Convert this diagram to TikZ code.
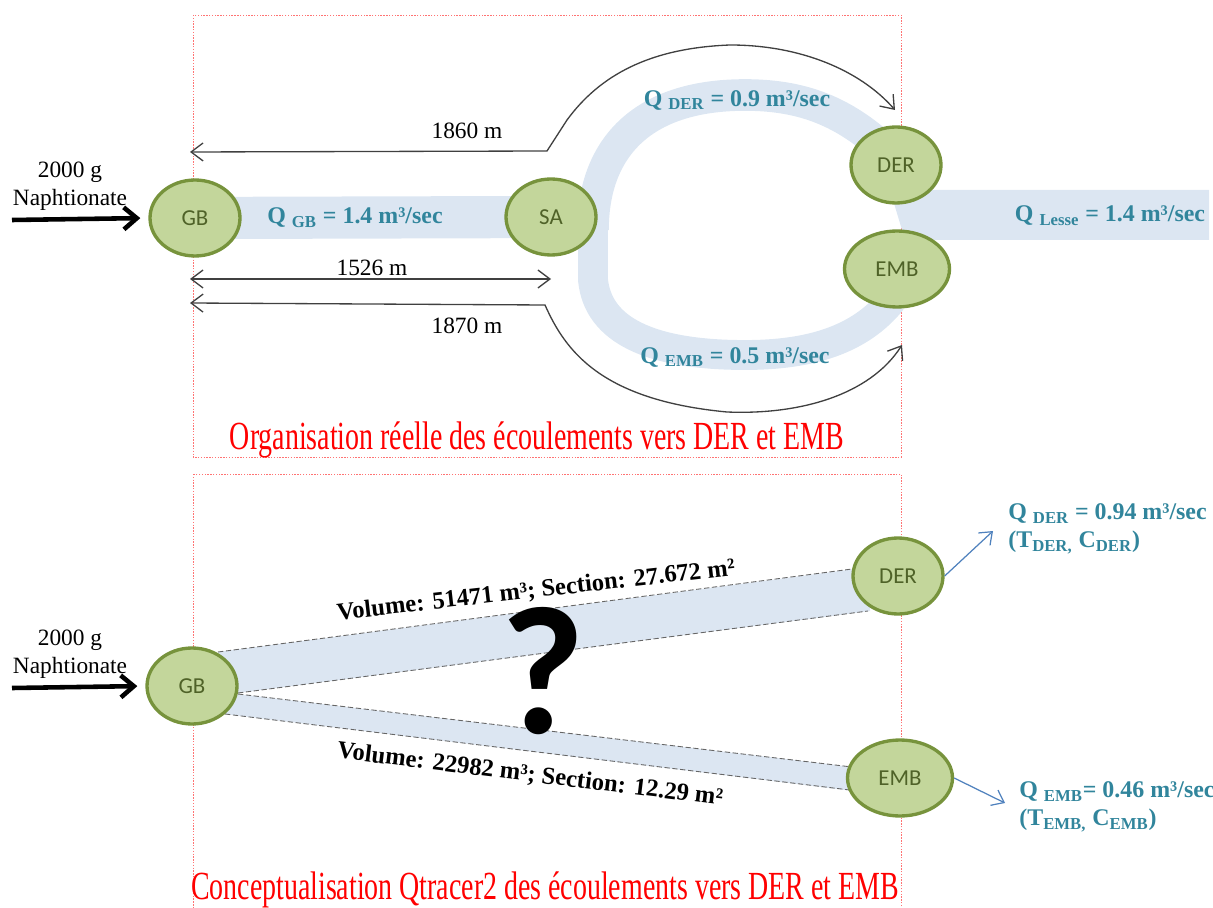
\documentclass[tikz,border=0pt]{standalone}
\usepackage{fontspec}
\setmainfont{Liberation Serif}
\newfontfamily\sitefont{Carlito}
\newfontfamily\zonefont[FakeStretch=0.7]{Liberation Serif}
\usepackage{xcolor}
\usetikzlibrary{arrows.meta, positioning, shapes.geometric, backgrounds}

\definecolor{sitefill}{HTML}{C3D69B}
\definecolor{siteedge}{HTML}{77933C}
\definecolor{sitetext}{HTML}{4F6228}
\definecolor{bandblue}{HTML}{DCE6F2}
\definecolor{flowteal}{HTML}{31859C}
\definecolor{dimgray}{HTML}{404040}
\definecolor{linkblue}{HTML}{4F81BD}

\begin{document}
\begin{tikzpicture}[x=0.02cm, y=-0.02cm,
  site/.style={ellipse, draw=siteedge, line width=1.9pt, fill=sitefill, minimum width=1.8cm, minimum height=1.52cm, inner sep=0pt, font=\sitefont\fontsize{13}{13}\selectfont, text=sitetext},
  wide/.style={minimum width=2.1cm},
  band/.style={fill=bandblue},
  bandedge/.style={draw=black!60, dash pattern=on 3pt off 1.5pt, line width=0.5pt},
  flow/.style={font=\bfseries\fontsize{13.6}{15.9}\selectfont, text=flowteal, inner sep=0pt},
  dist/.style={font=\fontsize{13.3}{15.9}\selectfont, inner sep=0pt},
  vol/.style={font=\bfseries\fontsize{14}{16}\selectfont, inner sep=0pt},
  zone/.style={font=\zonefont\fontsize{22.7}{24}\selectfont, text=red, inner sep=0pt},
  zoneframe/.style={draw=red!55, dash pattern=on 0.8pt off 0.8pt, line width=0.5pt},
  dimarr/.style={draw=dimgray, line width=0.75pt, {Straight Barb[length=2.4mm,width=3.6mm]}-{Straight Barb[length=2.4mm,width=3.6mm]}},
  inarr/.style={-{Straight Barb[length=2.6mm,width=4.4mm]}, line width=2.6pt},
  linkarr/.style={-{Straight Barb[length=2.2mm,width=3.4mm]}, draw=linkblue, line width=0.7pt}
]
  \useasboundingbox (0,0) rectangle (1213,908);

  % real organisation
  \node[site] (gb1) at (195,218) {GB};
  \node[site] (sa1) at (551,217) {SA};
  \node[site] (der1) at (896,165) {DER};
  \node[site, wide] (emb1) at (897,269) {EMB};

  \node[flow] (qgb) at (355,218) {Q \textsubscript{GB} = 1.4 m³/sec};
  \node[flow] (qder1) at (737,100) {Q \textsubscript{DER} = 0.9 m³/sec};
  \node[flow] (qemb1) at (735,357) {Q \textsubscript{EMB} = 0.5 m³/sec};
  \node[flow] (qlesse) at (1110,216) {Q \textsubscript{Lesse} = 1.4 m³/sec};

  \node[dist, align=center] (mass1) at (70,186) {2000 g\\Naphtionate};
  \coordinate (in1) at (12,220);
  \draw[inarr, shorten >=0.16cm] (in1) -- (gb1.west);

  \coordinate (a1860) at (190,152);
  \coordinate (b1860) at (895,110);
  \draw[dimarr] (a1860) -- (547,151) -- (567,120) .. controls (600,75) and (650,48) .. (730,45) .. controls (800,45) and (860,70) .. (b1860);
  \node[dist] (l1860) at (467,131) {1860 m};

  \coordinate (a1526) at (190,279);
  \coordinate (b1526) at (551,279);
  \draw[dimarr] (a1526) -- (b1526);
  \node[dist] (l1526) at (372,268) {1526 m};

  \coordinate (a1870) at (190,303);
  \coordinate (b1870) at (902,345);
  \draw[dimarr] (a1870) -- (545,305) .. controls (565,350) and (600,400) .. (727,412) .. controls (800,415) and (870,395) .. (b1870);
  \node[dist] (l1870) at (467,326) {1870 m};

  \node[zone] (cap1) at (537,440) {Organisation réelle des écoulements vers DER et EMB};

  % Qtracer2 conceptualisation
  \node[site] (gb2) at (192,686) {GB};
  \node[site] (der2) at (898,576) {DER};
  \node[site, wide] (emb2) at (900,778) {EMB};

  \node[dist, align=center] (mass2) at (70,654) {2000 g\\Naphtionate};
  \coordinate (in2) at (12,688);
  \draw[inarr, shorten >=0.16cm] (in2) -- (gb2.west);

  \node[vol, rotate=6.5] (vol1) at (536,591) {Volume: 51471 m³; Section: 27.672 m²};
  \node[vol, rotate=-7] (vol2) at (530,775) {Volume: 22982 m³; Section: 12.29 m²};
  \node[font=\sitefont\bfseries\fontsize{104}{104}\selectfont, inner sep=0pt] (qmark) at (543,671) {?};

  \node[flow, align=left, anchor=west] (qder2) at (1008,529) {Q \textsubscript{DER} = 0.94 m³/sec\\(T\textsubscript{DER,} C\textsubscript{DER})};
  \node[flow, align=left, anchor=west] (qemb2) at (1019,807) {Q \textsubscript{EMB}= 0.46 m³/sec\\(T\textsubscript{EMB,} C\textsubscript{EMB})};
  \coordinate (tipder) at (993,531);
  \coordinate (tipemb) at (1005,803);
  \draw[linkarr] (der2.east) -- (tipder);
  \draw[linkarr] (emb2.east) -- (tipemb);

  \node[zone] (cap2) at (545,890) {Conceptualisation Qtracer2 des écoulements vers DER et EMB};

  \begin{scope}[on background layer]
    \draw[zoneframe] (193,15) rectangle (901,457);
    \draw[zoneframe] (193,474) rectangle (901,925);
    \draw[bandblue, line width=24pt] (gb1.center) -- (sa1.center);
    \draw[bandblue, line width=18pt] (593,230) .. controls (593,150) and (640,95) .. (745,95) .. controls (800,95) and (840,110) .. (880,145);
    \draw[bandblue, line width=17pt] (593,200) -- (593,280) .. controls (598,330) and (650,355) .. (745,355) .. controls (810,355) and (860,340) .. (892,300);
    \fill[band] (890,190) -- (1209,190) -- (1209,240) -- (905,240) -- cycle;
    \fill[band] (218,652) -- (870,567) -- (870,611) -- (238,693) -- cycle;
    \fill[band] (238,694) -- (870,769) -- (870,793) -- (225,714) -- cycle;
    \draw[bandedge] (218,652) -- (852,569);
    \draw[bandedge] (238,693) -- (868,611);
    \draw[bandedge] (238,694) -- (852,767);
    \draw[bandedge] (225,714) -- (858,791);
  \end{scope}
\end{tikzpicture}
\end{document}
